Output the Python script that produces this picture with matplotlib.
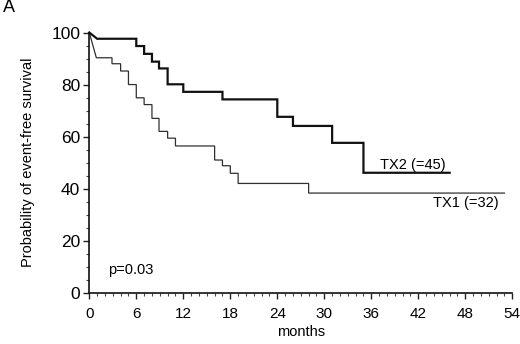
import numpy as np
import matplotlib
matplotlib.use("Agg")
import matplotlib.pyplot as plt

# Kaplan-Meier step data (months, survival %)
tx2_times = [0, 1.0, 6.0, 7.0, 8.0, 8.9, 10.0, 12.0, 17.0, 24.0, 26.0, 31.0, 35.0, 46.0]
tx2_surv = [100, 97.6, 94.8, 91.8, 88.8, 86.2, 80.1, 77.2, 74.3, 67.6, 64.1, 57.6, 46.1, 46.1]

tx1_times = [0, 0.9, 2.9, 4.0, 5.0, 6.0, 7.0, 8.0, 8.9, 10.0, 11.0, 16.0, 17.0, 18.0, 19.0, 28.0, 53.0]
tx1_surv = [100, 90.3, 88.0, 85.2, 80.0, 74.9, 72.3, 67.0, 62.0, 59.4, 56.4, 51.0, 48.8, 45.9, 42.0, 38.3, 38.3]

x_ticks = [0, 6, 12, 18, 24, 30, 36, 42, 48, 54]
y_ticks = [0, 20, 40, 60, 80, 100]
labels = ["TX2 (=45)", "TX1 (=32)"]
p_text = "p=0.03"


def km_path(times, surv):
    t = np.asarray(times, float)
    s = np.asarray(surv, float)
    # first drop drawn as a slanted segment, rest as post-steps
    xs = [t[0], t[1]]
    ys = [s[0], s[1]]
    for i in range(2, len(t)):
        xs += [t[i], t[i]]
        ys += [s[i - 1], s[i]]
    return np.array(xs), np.array(ys)


plt.rcParams['font.family'] = ['Liberation Sans', 'DejaVu Sans']

fig = plt.figure(figsize=(5.2, 3.44), dpi=100)
ax = fig.add_axes([0.1717, 0.149, 0.8135, 0.7565])

x2, y2 = km_path(tx2_times, tx2_surv)
x1, y1 = km_path(tx1_times, tx1_surv)
ax.plot(x1, y1, color='#303030', lw=0.9, solid_joinstyle='miter', clip_on=False)
ax.plot(x2, y2, color='#111111', lw=1.6, solid_joinstyle='miter', clip_on=False)

ax.set_xlim(0, 54)
ax.set_ylim(0, 100)
ax.set_xticks(x_ticks)
ax.set_yticks(y_ticks)
ax.set_xticks(np.arange(0, 55, 1), minor=True)
ax.set_yticks(np.arange(0, 101, 5), minor=True)
ax.tick_params(axis='both', which='major', direction='out', length=4.5, width=1.0,
               color='#222222')
ax.tick_params(axis='x', which='major', pad=6, labelsize=11)
ax.tick_params(axis='y', which='major', pad=2, labelsize=12.5)
ax.tick_params(axis='both', which='minor', direction='out', length=2.5, width=0.8, color='#444444')

for side in ['top', 'right']:
    ax.spines[side].set_visible(False)
for side in ['left', 'bottom']:
    ax.spines[side].set_linewidth(1.2)
    ax.spines[side].set_color('#111111')

ax.set_xlabel('months', fontsize=10.5, labelpad=3)
ax.set_ylabel('Probability of event-free survival', fontsize=10.5, labelpad=12)

ax.text(37.1, 49.0, labels[0], fontsize=10.5, va='center', ha='left')
ax.text(43.9, 34.3, labels[1], fontsize=10.5, va='center', ha='left')
ax.text(2.4, 8.7, p_text, fontsize=10.5, va='center', ha='left')

fig.text(9 / 520, 1 - 8 / 344, 'A', fontsize=13, ha='center', va='center')

fig.savefig('out.png', dpi=100)
